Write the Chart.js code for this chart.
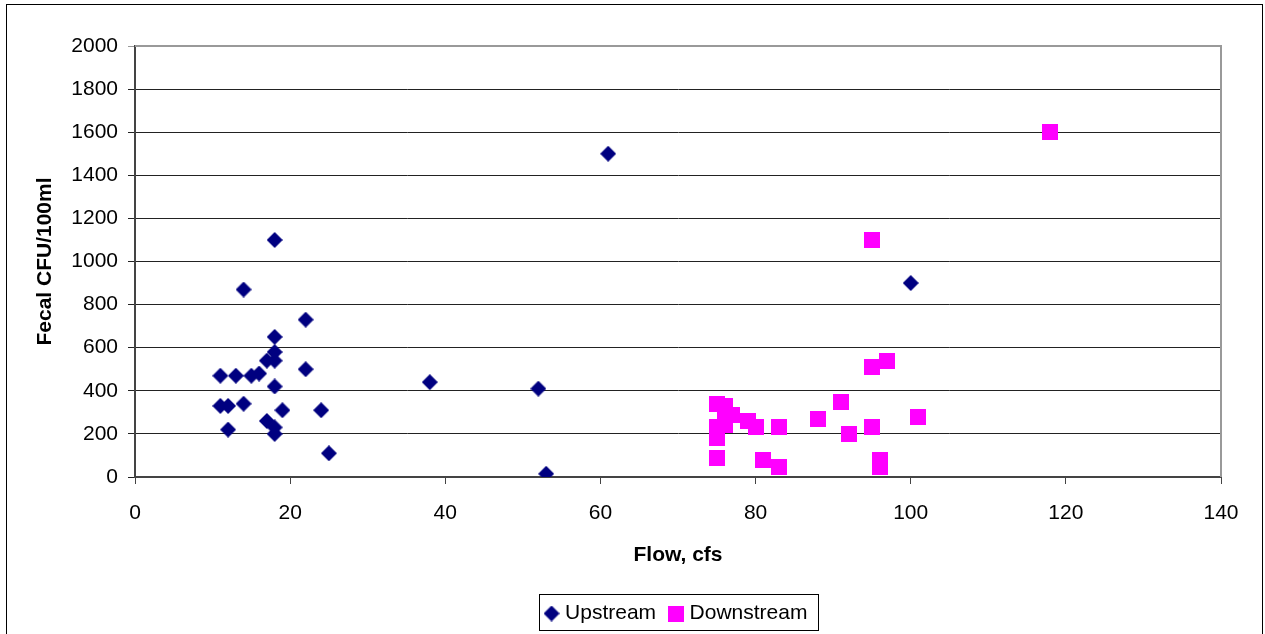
<!DOCTYPE html>
<html>
<head>
<meta charset="utf-8">
<script src="https://cdn.jsdelivr.net/npm/chart.js@4/dist/chart.umd.min.js"></script>
<style>
  html, body { margin: 0; padding: 0; background: #fff; }
  #wrap { position: relative; width: 1265px; height: 634px; }
</style>
</head>
<body>
<div id="wrap"><canvas id="c" width="1265" height="634"></canvas></div>
<script>
// flow (cfs) and fecal coliform (CFU/100ml) readings
const upstreamFlow  = [11, 13, 15, 16, 17, 18, 18, 18, 18, 14, 22, 22, 18, 11, 12, 14, 19, 24, 17, 18, 18, 12, 25, 38, 52, 53, 61, 100];
const upstreamFecal = [470, 470, 470, 480, 540, 540, 580, 650, 1100, 870, 730, 500, 420, 330, 330, 340, 310, 310, 260, 230, 200, 220, 110, 440, 410, 15, 1500, 900];

const downstreamFlow  = [75, 76, 76, 77, 79, 80, 83, 88, 91, 92, 95, 101, 75, 75, 76, 75, 81, 83, 96, 96, 95, 97, 95, 118];
const downstreamFecal = [340, 330, 300, 290, 260, 230, 230, 270, 350, 200, 230, 280, 230, 180, 240, 90, 80, 45, 80, 45, 510, 540, 1100, 1600];

const xTicks = [0, 20, 40, 60, 80, 100, 120, 140];
const yTicks = [0, 200, 400, 600, 800, 1000, 1200, 1400, 1600, 1800, 2000];

const FONT = "'Liberation Sans', Arial, sans-serif";

function marker(kind, color, size){
  const cv = document.createElement('canvas');
  cv.width = size; cv.height = size;
  const g = cv.getContext('2d');
  g.fillStyle = color;
  if (kind === 'diamond') {
    const h = size / 2;
    g.beginPath();
    g.moveTo(h, 0); g.lineTo(size, h); g.lineTo(h, size); g.lineTo(0, h);
    g.closePath(); g.fill();
  } else {
    g.fillRect(0, 0, size, size);
  }
  return cv;
}

const toPts = (xs, ys) => xs.map((x, i) => ({ x, y: ys[i] }));

const frame = {
  id: 'frame',
  beforeDraw(chart){
    const { ctx } = chart;
    ctx.save();
    ctx.strokeStyle = '#000';
    ctx.lineWidth = 1;
    ctx.strokeRect(6.5, 4.5, 1256, 700);
    ctx.restore();
  },
  beforeDatasetsDraw(chart){
    const { ctx, chartArea: a } = chart;
    ctx.save();
    ctx.strokeStyle = '#999';
    ctx.lineWidth = 2;
    ctx.beginPath();
    ctx.moveTo(a.left, a.top); ctx.lineTo(a.right, a.top); ctx.lineTo(a.right, a.bottom);
    ctx.stroke();
    ctx.restore();
  },
  afterDraw(chart){
    const lg = chart.legend;
    if (!lg || !lg.legendHitBoxes || !lg.legendHitBoxes.length) return;
    const hb = lg.legendHitBoxes;
    const left = hb[0].left - 10;
    const last = hb[hb.length - 1];
    const right = last.left + last.width + 10;
    const cy = hb[0].top + hb[0].height / 2;
    const { ctx } = chart;
    ctx.save();
    ctx.strokeStyle = '#000';
    ctx.lineWidth = 1;
    ctx.strokeRect(Math.round(left) + 0.5, Math.round(cy - 20) + 0.5, Math.round(right - left), 36);
    ctx.restore();
  }
};

new Chart(document.getElementById('c'), {
  type: 'scatter',
  data: {
    datasets: [
      {
        label: 'Upstream',
        data: toPts(upstreamFlow, upstreamFecal),
        pointStyle: marker('diamond', '#000080', 16),
        backgroundColor: '#000080',
        borderColor: '#000080'
      },
      {
        label: 'Downstream',
        data: toPts(downstreamFlow, downstreamFecal),
        pointStyle: marker('square', '#FF00FF', 16),
        backgroundColor: '#FF00FF',
        borderColor: '#FF00FF'
      }
    ]
  },
  options: {
    responsive: false,
    animation: false,
    layout: { padding: { top: 46, right: 44, bottom: 0, left: 0 } },
    plugins: {
      tooltip: { enabled: false },
      legend: {
        position: 'bottom',
        fullSize: false,
        labels: {
          usePointStyle: true,
          boxWidth: 6,
          padding: 17,
          color: '#000',
          font: { family: FONT, size: 21 }
        }
      }
    },
    scales: {
      x: {
        type: 'linear',
        min: 0, max: 140,
        afterBuildTicks: s => { s.ticks = xTicks.map(v => ({ value: v })); },
        afterFit: s => { s.height = 109; },
        ticks: { color: '#000', padding: 17, font: { family: FONT, size: 21 }, maxRotation: 0, callback: v => String(v) },
        grid: { drawOnChartArea: false, tickLength: 7, color: '#444' },
        border: { color: '#444', width: 2 },
        title: {
          display: true, text: 'Flow, cfs', color: '#000',
          font: { family: FONT, size: 21, weight: 'bold' },
          padding: { top: 0, bottom: 18 }
        }
      },
      y: {
        type: 'linear',
        min: 0, max: 2000,
        afterBuildTicks: s => { s.ticks = yTicks.map(v => ({ value: v })); },
        afterFit: s => { s.width = 135; },
        ticks: { color: '#000', padding: 10, font: { family: FONT, size: 21 }, callback: v => String(v) },
        grid: {
          tickLength: 7,
          color: c => (c.tick && c.tick.value === 2000) ? '#999' : '#222',
          lineWidth: 1
        },
        border: { color: '#444', width: 2 },
        title: {
          display: true, text: 'Fecal CFU/100ml', color: '#000',
          font: { family: FONT, size: 21, weight: 'bold' },
          padding: { top: 33, bottom: 0 }
        }
      }
    }
  },
  plugins: [frame]
});
</script>
</body>
</html>
